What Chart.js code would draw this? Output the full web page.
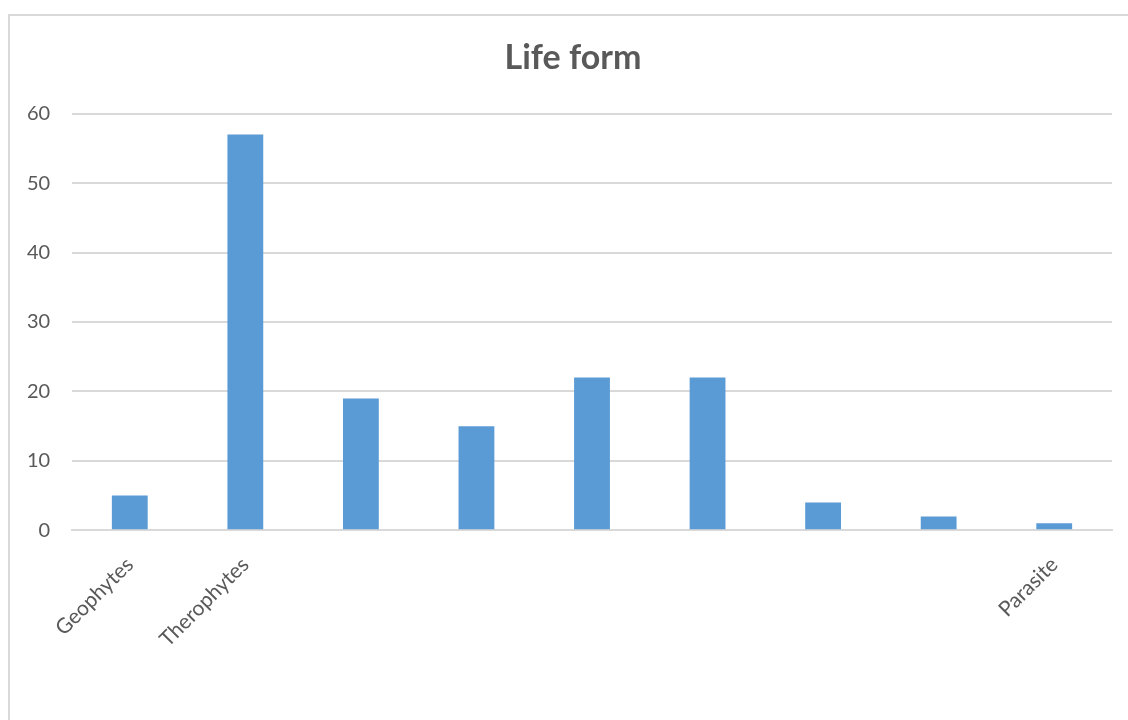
<!DOCTYPE html>
<html>
<head>
    <title>Life form</title>
    <style>
        body {
            margin: 0;
            background-color: #ffffff;
            width: 1128px;
            height: 720px;
            overflow: hidden;
            position: relative;
        }
        #frame {
            position: absolute;
            left: 8px;
            top: 14px;
            width: 1200px;
            height: 800px;
            border: 2px solid #d9d9d9;
            box-sizing: border-box;
        }
        #chart-box {
            position: absolute;
            left: 0;
            top: 0;
            width: 1128px;
            height: 720px;
        }
    </style>
</head>
<body>
    <div id="frame"></div>
    <div id="chart-box">
        <canvas id="lifeChart"></canvas>
    </div>

    <script src="https://cdn.jsdelivr.net/npm/chart.js"></script>
    <script>
        const categories = ['Geophytes', 'Therophytes', '', '', '', '', '', '', 'Parasite'];
        const counts = [5, 57, 19, 15, 22, 22, 4, 2, 1];
        const yTicks = [0, 10, 20, 30, 40, 50, 60];

        const textColor = '#595959';
        const gridColor = '#d9d9d9';

        const ctx = document.getElementById('lifeChart').getContext('2d');
        new Chart(ctx, {
            type: 'bar',
            data: {
                labels: categories,
                datasets: [{
                    label: 'Life form',
                    data: counts,
                    backgroundColor: '#5b9bd5',
                    barPercentage: 1,
                    categoryPercentage: 0.31
                }]
            },
            options: {
                responsive: true,
                maintainAspectRatio: false,
                animation: false,
                layout: {
                    padding: { left: 34, right: 16, top: 0, bottom: 46 }
                },
                plugins: {
                    legend: { display: false },
                    tooltip: { enabled: false },
                    title: {
                        display: true,
                        text: 'Life form',
                        color: textColor,
                        font: { family: 'Lato', size: 34, weight: 'bold' },
                        padding: { top: 38, bottom: 35 }
                    }
                },
                scales: {
                    x: {
                        grid: { display: false, drawTicks: false },
                        border: { display: true, color: gridColor, width: 2 },
                        ticks: {
                            color: textColor,
                            font: { family: 'Lato', size: 21 },
                            maxRotation: 45,
                            minRotation: 45,
                            autoSkip: false,
                            padding: 22
                        }
                    },
                    y: {
                        min: 0,
                        max: 60,
                        afterBuildTicks: axis => {
                            axis.ticks = yTicks.map(v => ({ value: v }));
                        },
                        afterFit: axis => { axis.width = 38; },
                        grid: { color: gridColor, lineWidth: 2, drawTicks: false },
                        border: { display: false },
                        ticks: {
                            // mirrored so the labels are not clipped to the narrow axis box
                            mirror: true,
                            crossAlign: 'far',
                            color: textColor,
                            font: { family: 'Lato', size: 20 },
                            padding: -45
                        }
                    }
                }
            }
        });
    </script>
</body>
</html>
